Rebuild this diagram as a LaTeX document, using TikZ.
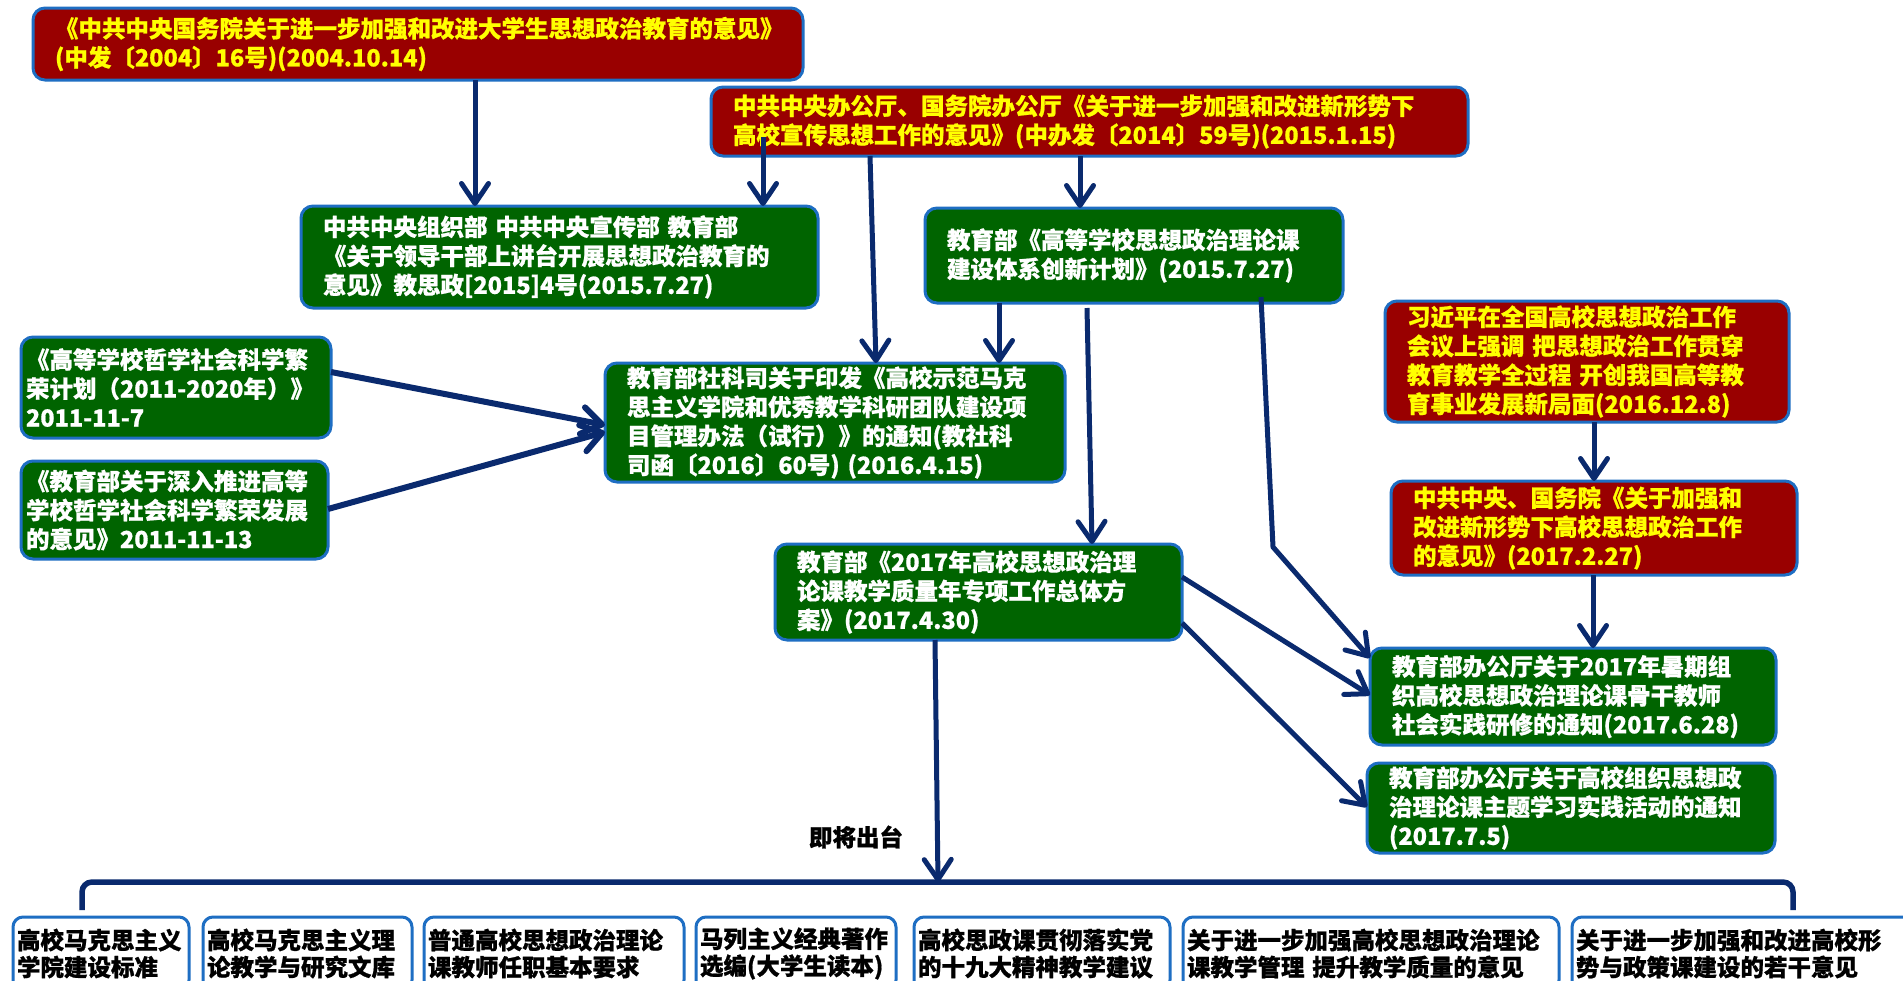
\documentclass[tikz,border=0pt]{standalone}
\usepackage{fontspec}
\setmainfont{Noto Sans CJK SC}[BoldFeatures={FakeBold=0.8}]
\usetikzlibrary{arrows.meta}
\definecolor{cred}{RGB}{153,0,0}
\definecolor{cgreen}{RGB}{0,100,0}
\definecolor{cborder}{RGB}{30,110,195}
\definecolor{cnavy}{RGB}{10,42,110}
\definecolor{cyel}{RGB}{255,255,0}
\begin{document}
\begin{tikzpicture}[x=1pt,y=-1pt,
  box/.style={draw=cborder, line width=3pt, rounded corners=12pt, outer sep=0pt, anchor=north west, align=left, font=\bfseries\fontsize{23.5}{29}\selectfont, inner xsep=22pt, inner ysep=0pt},
  redbox/.style={box, fill=cred, text=cyel},
  greenbox/.style={box, fill=cgreen, text=white},
  wbox/.style={box, fill=white, text=black, inner xsep=4pt, rounded corners=10pt, minimum height=73pt, font=\bfseries\fontsize{23.5}{27}\selectfont},
  arr/.style={draw=cnavy, line width=5pt, -{Straight Barb[length=20pt,width=27pt,round]}},
  thickarr/.style={arr, line width=6pt},
  brk/.style={draw=cnavy, line width=5.5pt, rounded corners=10pt},
  lbl/.style={font=\bfseries\fontsize{23.5}{29}\selectfont, text=black}
]
\useasboundingbox (0,0) rectangle (1903,980);
\clip (0,0) rectangle (1903,980);
\fill[white] (0,0) rectangle (1903,980);

% red boxes
\node[redbox, minimum width=768pt, minimum height=72pt, text width=726pt] (A) at (33,8)
  {《中共中央国务院关于进一步加强和改进大学生思想政治教育的意见》\\(中发〔2004〕16号)(2004.10.14)};
\node[redbox, minimum width=757pt, minimum height=69pt, text width=713pt] (B) at (711,87)
  {中共中央办公厅、国务院办公厅《关于进一步加强和改进新形势下\\高校宣传思想工作的意见》(中办发〔2014〕59号)(2015.1.15)};
\node[redbox, minimum width=404pt, minimum height=121pt, text width=360pt] (E) at (1385,301)
  {习近平在全国高校思想政治工作\\会议上强调~把思想政治工作贯穿\\教育教学全过程~开创我国高等教\\育事业发展新局面(2016.12.8)};
\node[redbox, minimum width=406pt, minimum height=94pt, text width=362pt] (F) at (1391,481)
  {中共中央、国务院《关于加强和\\改进新形势下高校思想政治工作\\的意见》(2017.2.27)};

% green boxes
\node[greenbox, minimum width=517pt, minimum height=102pt, text width=473pt] (C) at (301,206)
  {中共中央组织部~中共中央宣传部~教育部\\《关于领导干部上讲台开展思想政治教育的\\意见》教思政[2015]4号(2015.7.27)};
\node[greenbox, minimum width=418pt, minimum height=95pt, text width=374pt] (D) at (925,208)
  {教育部《高等学校思想政治理论课\\建设体系创新计划》(2015.7.27)};
\node[greenbox, minimum width=310pt, minimum height=101pt, text width=300pt, inner xsep=5pt] (I) at (21,337)
  {《高等学校哲学社会科学繁\\荣计划（2011-2020年）》\\2011-11-7};
\node[greenbox, minimum width=307pt, minimum height=98pt, text width=297pt, inner xsep=5pt] (J) at (21,461)
  {《教育部关于深入推进高等\\学校哲学社会科学繁荣发展\\的意见》2011-11-13};
\node[greenbox, minimum width=460pt, minimum height=119pt, text width=416pt] (K) at (605,363)
  {教育部社科司关于印发《高校示范马克\\思主义学院和优秀教学科研团队建设项\\目管理办法（试行）》的通知(教社科\\司函〔2016〕60号)~(2016.4.15)};
\node[greenbox, minimum width=407pt, minimum height=96pt, text width=363pt] (L) at (775,544)
  {教育部《2017年高校思想政治理\\论课教学质量年专项工作总体方\\案》(2017.4.30)};
\node[greenbox, minimum width=406pt, minimum height=97pt, text width=362pt] (G) at (1370,648)
  {教育部办公厅关于2017年暑期组\\织高校思想政治理论课骨干教师\\社会实践研修的通知(2017.6.28)};
\node[greenbox, minimum width=408pt, minimum height=90pt, text width=364pt] (H) at (1367,763)
  {教育部办公厅关于高校组织思想政\\治理论课主题学习实践活动的通知\\(2017.7.5)};

% bottom boxes
\node[wbox, minimum width=176pt, text width=168pt] (bb1) at (13,917) {高校马克思主义\\学院建设标准};
\node[wbox, minimum width=209pt, text width=201pt] (bb2) at (203,917) {高校马克思主义理\\论教学与研究文库};
\node[wbox, minimum width=260pt, text width=252pt] (bb3) at (424,917) {普通高校思想政治理论\\课教师任职基本要求};
\node[wbox, minimum width=200pt, text width=192pt] (bb4) at (696,917) {马列主义经典著作\\选编(大学生读本)};
\node[wbox, minimum width=256pt, text width=248pt] (bb5) at (914,917) {高校思政课贯彻落实党\\的十九大精神教学建议};
\node[wbox, minimum width=376pt, text width=368pt] (bb6) at (1183,917) {关于进一步加强高校思想政治理论\\课教学管理~提升教学质量的意见};
\node[wbox, minimum width=340pt, text width=332pt] (bb7) at (1572,917) {关于进一步加强和改进高校形\\势与政策课建设的若干意见};

\node[lbl] (soon) at (856,837) {即将出台};

% connectors
\draw[arr] ([xshift=442pt]A.south west) -- ([xshift=174pt]C.north west);
\draw[arr] ([xshift=52pt,yshift=19pt]B.south west) -- ([xshift=462pt]C.north west);
\draw[arr] ([xshift=159pt]B.south west) -- ([xshift=271pt]K.north west);
\draw[arr] ([xshift=369pt]B.south west) -- ([xshift=155pt]D.north west);
\draw[arr] ([xshift=74pt]D.south west) -- ([xshift=394pt]K.north west);
\draw[arr] ([xshift=162pt,yshift=-5pt]D.south west) -- ([xshift=317pt]L.north west);
\coordinate (bend7) at (1273,547);
\draw[arr] ([xshift=336pt,yshift=6pt]D.south west) -- (bend7) -- ([yshift=-10pt]G.north west);
\draw[arr] ([xshift=209pt]E.south west) -- ([xshift=203pt]F.north west);
\draw[arr] ([xshift=202pt]F.south west) -- ([xshift=223pt]G.north west);
\draw[arr] ([yshift=-33pt]L.north east) -- ([yshift=-47pt]G.north west);
\draw[arr] ([yshift=-79pt]L.north east) -- ([yshift=-44pt]H.north west);
\draw[thickarr] ([yshift=-35pt]I.north east) -- ([yshift=-62pt]K.north west);
\draw[thickarr] ([yshift=-48pt]J.north east) -- ([yshift=-69pt]K.north west);

% bracket to upcoming documents
\coordinate (bl) at ([xshift=69pt,yshift=7pt]bb1.north west);
\coordinate (br) at ([xshift=221pt,yshift=7pt]bb7.north west);
\coordinate (bm) at (938,882);
\draw[brk] (bl) |- (bm) -| (br);
\draw[arr] ([xshift=160pt]L.south west) -- (bm);
\end{tikzpicture}
\end{document}
